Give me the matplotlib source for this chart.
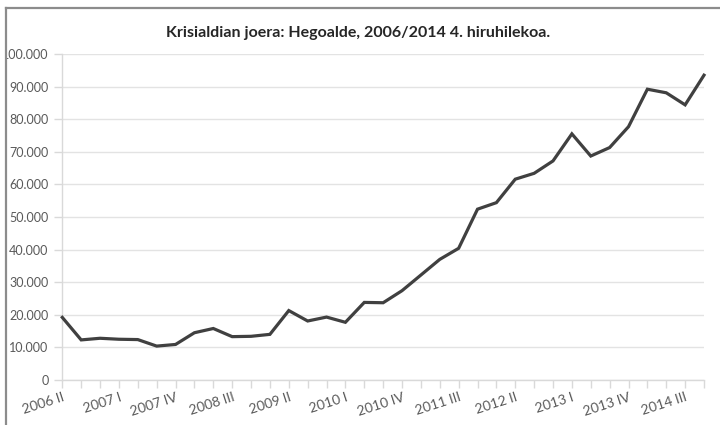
import matplotlib
matplotlib.use("Agg")
import matplotlib.pyplot as plt
import matplotlib.transforms as mtransforms
from matplotlib.lines import Line2D
from matplotlib.patches import Rectangle
from matplotlib.ticker import FuncFormatter, MultipleLocator

# quarterly series, 2006 II .. 2014 IV
quarters = []
for year in range(2006, 2015):
    for q in ["I", "II", "III", "IV"]:
        quarters.append(f"{year} {q}")
quarters = quarters[1:]  # starts at 2006 II

values = [
    19200, 12300, 12800, 12500, 12400, 10400, 10900, 14500, 15800, 13300,
    13400, 14000, 21300, 18100, 19300, 17700, 23800, 23700, 27400, 32200,
    37000, 40400, 52400, 54400, 61600, 63400, 67200, 75500, 68700, 71300,
    77700, 89200, 88100, 84400, 93500,
]
title = "Krisialdian joera: Hegoalde, 2006/2014 4. hiruhilekoa."

plt.rcParams["font.family"] = ["Lato", "DejaVu Sans"]

W, H = 720, 425
fig = plt.figure(figsize=(W / 100, H / 100), dpi=100)
ax = fig.add_axes([62.3 / W, 1 - 380 / H, (704 - 62.3) / W, (380 - 54) / H])

x = list(range(len(values)))
ax.plot(x, values, color="#404040", lw=2.3, solid_joinstyle="miter", zorder=3, clip_on=False)

ax.set_xlim(0, len(values) - 1)
ax.set_ylim(0, 100000)
ax.yaxis.set_major_locator(MultipleLocator(10000))
ax.yaxis.set_major_formatter(FuncFormatter(lambda v, _: f"{int(v):,}".replace(",", ".")))
ax.grid(axis="y", color="#e3e3e3", lw=1)
ax.set_axisbelow(True)

ax.set_xticks(x)
ax.set_xticklabels([q if i % 3 == 0 else "" for i, q in enumerate(quarters)],
                   rotation=18, ha="right", rotation_mode="anchor", fontsize=10)
shift = mtransforms.ScaledTranslation(26 / 100, 5 / 100, fig.dpi_scale_trans)
for lbl in ax.get_xticklabels():
    lbl.set_transform(lbl.get_transform() + shift)

for side in ["top", "right"]:
    ax.spines[side].set_visible(False)
for side in ["left", "bottom"]:
    ax.spines[side].set_color("#d9d9d9")
    ax.spines[side].set_linewidth(1)
ax.tick_params(axis="both", colors="#d9d9d9", length=6, width=1, labelcolor="#595959")
ax.tick_params(axis="y", pad=4, labelsize=9)
ax.tick_params(axis="x", pad=2)

fig.text(358 / W, 1 - 33 / H, title, ha="center", va="center",
         fontsize=11.5, fontweight="bold", color="#262626")

# cropped chart frame
fig.add_artist(Rectangle((0, 0), 6 / W, 1, transform=fig.transFigure,
                         facecolor="white", edgecolor="none", zorder=10))
fig.add_artist(Line2D([6.5 / W, 6.5 / W], [0, 1 - 8 / H], transform=fig.transFigure,
                      color="#8c8c8c", lw=1.6, zorder=11))
fig.add_artist(Line2D([6.5 / W, 1], [1 - 8 / H, 1 - 8 / H], transform=fig.transFigure,
                      color="#8c8c8c", lw=1.6, zorder=11))

fig.savefig("out.png", dpi=100)
